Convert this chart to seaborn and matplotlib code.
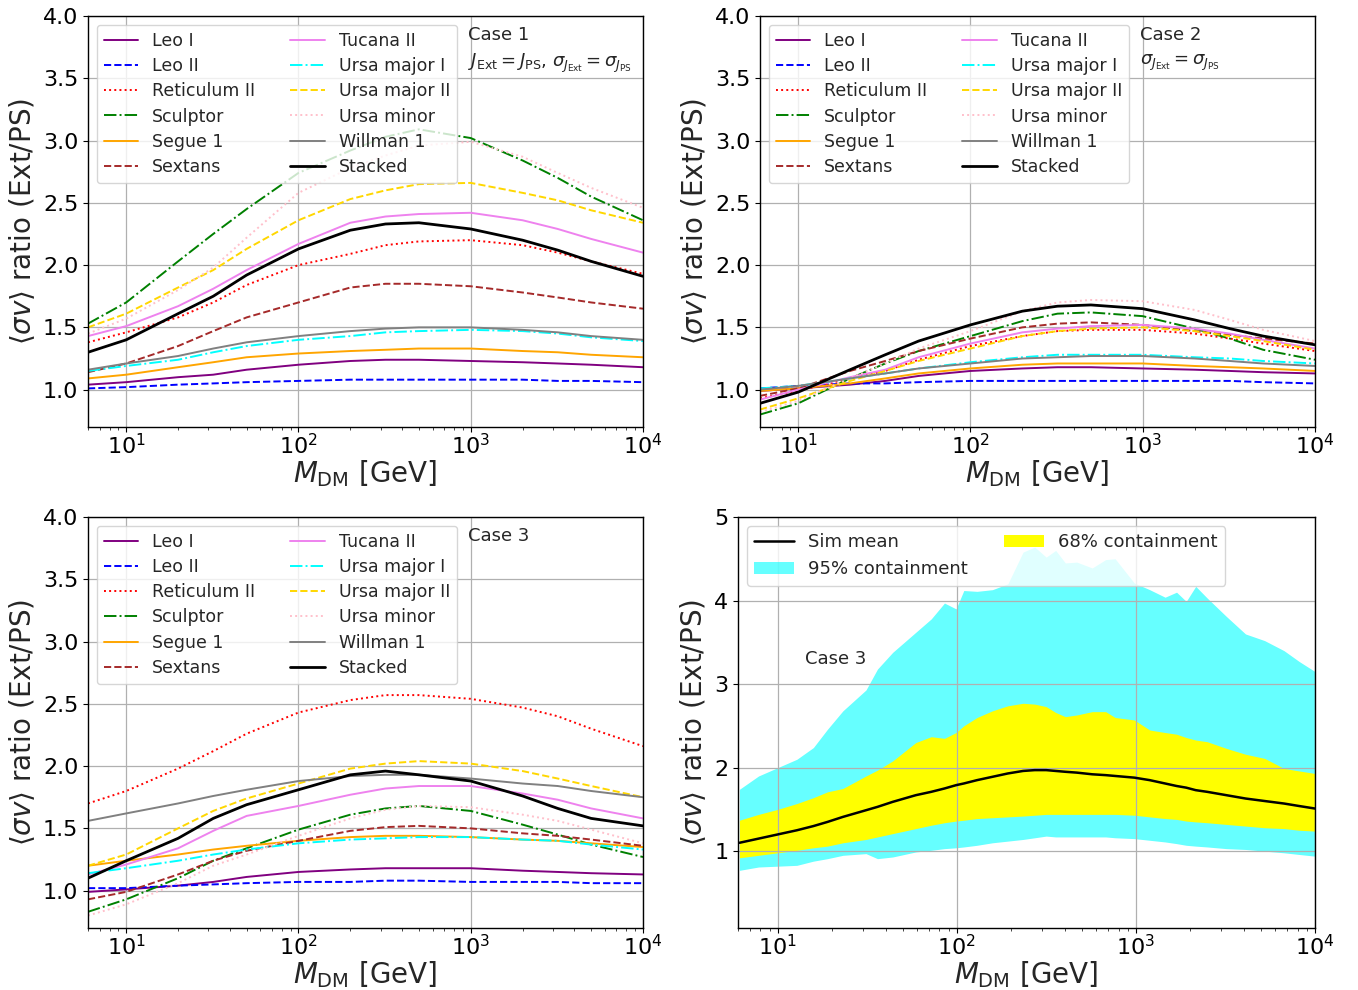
import matplotlib
matplotlib.use("Agg")
import matplotlib.pyplot as plt
from matplotlib.lines import Line2D
from matplotlib.patches import Patch
import seaborn as sns

# Dark-matter mass grid [GeV] for the per-dwarf ratio curves
mass = [6, 10, 20, 32, 50, 100, 200, 320, 500, 1000, 2000, 3200, 5000, 10000]

names = ["Leo I", "Leo II", "Reticulum II", "Sculptor", "Segue 1", "Sextans",
         "Tucana II", "Ursa major I", "Ursa major II", "Ursa minor", "Willman 1", "Stacked"]

# ---- Case 1: J_Ext = J_PS, sigma_J_Ext = sigma_J_PS
c1_leo1 = [1.04, 1.06, 1.10, 1.12, 1.16, 1.20, 1.23, 1.24, 1.24, 1.23, 1.22, 1.21, 1.20, 1.18]
c1_leo2 = [1.01, 1.02, 1.04, 1.05, 1.06, 1.07, 1.08, 1.08, 1.08, 1.08, 1.08, 1.07, 1.07, 1.06]
c1_ret2 = [1.38, 1.46, 1.58, 1.70, 1.84, 2.00, 2.09, 2.16, 2.19, 2.20, 2.16, 2.10, 2.03, 1.93]
c1_scl = [1.53, 1.70, 2.03, 2.25, 2.45, 2.74, 2.92, 3.03, 3.09, 3.02, 2.84, 2.70, 2.55, 2.36]
c1_seg1 = [1.09, 1.12, 1.18, 1.22, 1.26, 1.29, 1.31, 1.32, 1.33, 1.33, 1.31, 1.30, 1.28, 1.26]
c1_sex = [1.14, 1.21, 1.35, 1.47, 1.58, 1.70, 1.82, 1.85, 1.85, 1.83, 1.78, 1.74, 1.70, 1.65]
c1_tuc2 = [1.43, 1.51, 1.67, 1.81, 1.96, 2.17, 2.34, 2.39, 2.41, 2.42, 2.36, 2.29, 2.21, 2.10]
c1_uma1 = [1.15, 1.19, 1.24, 1.30, 1.35, 1.40, 1.43, 1.46, 1.47, 1.48, 1.47, 1.45, 1.42, 1.39]
c1_uma2 = [1.50, 1.61, 1.82, 1.96, 2.13, 2.36, 2.53, 2.60, 2.65, 2.66, 2.58, 2.52, 2.44, 2.34]
c1_umi = [1.45, 1.57, 1.80, 1.98, 2.22, 2.58, 2.78, 2.88, 2.96, 2.99, 2.87, 2.74, 2.62, 2.46]
c1_wil1 = [1.16, 1.21, 1.27, 1.33, 1.38, 1.43, 1.47, 1.49, 1.50, 1.50, 1.48, 1.46, 1.43, 1.40]
c1_stack = [1.30, 1.40, 1.61, 1.75, 1.92, 2.13, 2.28, 2.33, 2.34, 2.29, 2.20, 2.12, 2.03, 1.91]

# ---- Case 2: sigma_J_Ext = sigma_J_PS
c2_leo1 = [0.99, 1.01, 1.04, 1.07, 1.11, 1.15, 1.17, 1.18, 1.18, 1.17, 1.16, 1.15, 1.14, 1.13]
c2_leo2 = [1.01, 1.03, 1.05, 1.05, 1.06, 1.07, 1.07, 1.07, 1.07, 1.07, 1.07, 1.07, 1.06, 1.05]
c2_ret2 = [0.93, 0.99, 1.09, 1.15, 1.24, 1.35, 1.43, 1.47, 1.48, 1.48, 1.45, 1.41, 1.37, 1.31]
c2_scl = [0.80, 0.89, 1.09, 1.21, 1.31, 1.43, 1.55, 1.61, 1.62, 1.59, 1.49, 1.41, 1.32, 1.24]
c2_seg1 = [0.99, 1.01, 1.05, 1.09, 1.13, 1.17, 1.20, 1.21, 1.21, 1.21, 1.19, 1.18, 1.17, 1.15]
c2_sex = [0.95, 1.01, 1.15, 1.23, 1.31, 1.41, 1.50, 1.53, 1.54, 1.52, 1.47, 1.44, 1.41, 1.37]
c2_tuc2 = [0.92, 1.00, 1.10, 1.16, 1.26, 1.37, 1.46, 1.49, 1.51, 1.52, 1.49, 1.45, 1.40, 1.33]
c2_uma1 = [1.01, 1.03, 1.09, 1.13, 1.17, 1.22, 1.26, 1.28, 1.28, 1.28, 1.26, 1.25, 1.23, 1.21]
c2_uma2 = [0.84, 0.93, 1.07, 1.15, 1.23, 1.33, 1.43, 1.47, 1.49, 1.50, 1.47, 1.43, 1.39, 1.32]
c2_umi = [0.82, 0.91, 1.09, 1.21, 1.33, 1.47, 1.63, 1.70, 1.72, 1.71, 1.64, 1.56, 1.48, 1.39]
c2_wil1 = [1.00, 1.03, 1.09, 1.13, 1.17, 1.21, 1.25, 1.26, 1.27, 1.27, 1.25, 1.23, 1.21, 1.19]
c2_stack = [0.89, 0.98, 1.16, 1.28, 1.39, 1.52, 1.63, 1.67, 1.68, 1.65, 1.56, 1.49, 1.43, 1.36]

# ---- Case 3
c3_leo1 = [0.99, 1.01, 1.04, 1.07, 1.11, 1.15, 1.17, 1.18, 1.18, 1.18, 1.16, 1.15, 1.14, 1.13]
c3_leo2 = [1.02, 1.02, 1.04, 1.05, 1.06, 1.07, 1.07, 1.08, 1.08, 1.07, 1.07, 1.07, 1.06, 1.06]
c3_ret2 = [1.70, 1.80, 1.98, 2.12, 2.26, 2.43, 2.53, 2.57, 2.57, 2.54, 2.47, 2.40, 2.30, 2.16]
c3_scl = [0.83, 0.93, 1.10, 1.24, 1.34, 1.49, 1.61, 1.66, 1.68, 1.64, 1.53, 1.45, 1.37, 1.27]
c3_seg1 = [1.20, 1.24, 1.29, 1.33, 1.36, 1.40, 1.43, 1.44, 1.44, 1.43, 1.41, 1.40, 1.38, 1.35]
c3_sex = [0.93, 0.99, 1.13, 1.24, 1.32, 1.40, 1.48, 1.51, 1.52, 1.50, 1.46, 1.44, 1.41, 1.36]
c3_tuc2 = [1.13, 1.21, 1.34, 1.48, 1.60, 1.68, 1.77, 1.82, 1.84, 1.84, 1.78, 1.73, 1.66, 1.58]
c3_uma1 = [1.14, 1.18, 1.24, 1.29, 1.33, 1.38, 1.41, 1.42, 1.43, 1.43, 1.41, 1.40, 1.37, 1.33]
c3_uma2 = [1.20, 1.29, 1.50, 1.64, 1.74, 1.86, 1.98, 2.02, 2.04, 2.02, 1.96, 1.90, 1.84, 1.75]
c3_umi = [0.80, 0.89, 1.06, 1.20, 1.29, 1.44, 1.58, 1.65, 1.68, 1.67, 1.61, 1.56, 1.49, 1.38]
c3_wil1 = [1.56, 1.62, 1.70, 1.76, 1.81, 1.88, 1.92, 1.93, 1.93, 1.90, 1.86, 1.84, 1.80, 1.75]
c3_stack = [1.10, 1.24, 1.42, 1.58, 1.69, 1.81, 1.93, 1.96, 1.93, 1.88, 1.76, 1.66, 1.58, 1.52]

# ---- Case 3 simulations: log10 mass grid, mean and containment bands
sim_log_mass = [0.786, 0.893, 1.0, 1.107, 1.199, 1.278, 1.364, 1.493, 1.557, 1.642,
                1.771, 1.857, 1.931, 1.996, 2.039, 2.113, 2.199, 2.285, 2.370, 2.435,
                2.499, 2.552, 2.606, 2.670, 2.756, 2.831, 2.884, 2.991, 3.077, 3.163,
                3.227, 3.281, 3.334, 3.398, 3.505, 3.612, 3.719, 3.827, 3.912, 4.0]
sim_mean = [1.10, 1.15, 1.20, 1.25, 1.30, 1.35, 1.41, 1.49, 1.53, 1.59,
            1.67, 1.71, 1.75, 1.79, 1.81, 1.85, 1.89, 1.93, 1.96, 1.97,
            1.97, 1.96, 1.95, 1.94, 1.92, 1.91, 1.90, 1.88, 1.85, 1.81,
            1.78, 1.76, 1.73, 1.71, 1.67, 1.63, 1.60, 1.57, 1.54, 1.51]
sim_68_lo = [0.92, 0.95, 0.98, 1.01, 1.04, 1.06, 1.10, 1.14, 1.17, 1.21,
             1.27, 1.31, 1.34, 1.36, 1.37, 1.39, 1.40, 1.41, 1.42, 1.43,
             1.44, 1.44, 1.44, 1.44, 1.44, 1.44, 1.44, 1.43, 1.41, 1.39,
             1.38, 1.36, 1.35, 1.34, 1.32, 1.30, 1.28, 1.27, 1.25, 1.24]
sim_68_hi = [1.37, 1.44, 1.50, 1.57, 1.64, 1.71, 1.75, 1.90, 1.97, 2.08,
             2.30, 2.37, 2.35, 2.42, 2.50, 2.60, 2.68, 2.74, 2.77, 2.76,
             2.73, 2.66, 2.61, 2.63, 2.67, 2.67, 2.60, 2.57, 2.45, 2.42,
             2.40, 2.36, 2.33, 2.31, 2.23, 2.16, 2.11, 1.99, 1.96, 1.93]
sim_95_lo = [0.77, 0.81, 0.82, 0.83, 0.88, 0.91, 0.95, 0.97, 0.91, 0.93,
             0.99, 1.01, 1.03, 1.04, 1.05, 1.07, 1.10, 1.12, 1.14, 1.16,
             1.18, 1.17, 1.17, 1.17, 1.17, 1.17, 1.16, 1.15, 1.13, 1.11,
             1.09, 1.07, 1.06, 1.05, 1.03, 1.02, 1.00, 0.98, 0.96, 0.94]
sim_95_hi = [1.74, 1.90, 2.00, 2.10, 2.24, 2.46, 2.68, 2.93, 3.18, 3.38,
             3.62, 3.78, 3.97, 3.90, 4.12, 4.11, 4.13, 4.20, 4.58, 4.64,
             4.52, 4.60, 4.45, 4.46, 4.39, 4.49, 4.50, 4.21, 4.13, 4.04,
             4.10, 3.99, 4.17, 4.03, 3.81, 3.60, 3.52, 3.40, 3.27, 3.15]

case1 = [c1_leo1, c1_leo2, c1_ret2, c1_scl, c1_seg1, c1_sex, c1_tuc2, c1_uma1, c1_uma2, c1_umi, c1_wil1, c1_stack]
case2 = [c2_leo1, c2_leo2, c2_ret2, c2_scl, c2_seg1, c2_sex, c2_tuc2, c2_uma1, c2_uma2, c2_umi, c2_wil1, c2_stack]
case3 = [c3_leo1, c3_leo2, c3_ret2, c3_scl, c3_seg1, c3_sex, c3_tuc2, c3_uma1, c3_uma2, c3_umi, c3_wil1, c3_stack]

styles = {
    "Leo I": ("purple", "-"),
    "Leo II": ("blue", "--"),
    "Reticulum II": ("red", ":"),
    "Sculptor": ("green", "-."),
    "Segue 1": ("orange", "-"),
    "Sextans": ("brown", "--"),
    "Tucana II": ("violet", "-"),
    "Ursa major I": ("cyan", "-."),
    "Ursa major II": ("gold", "--"),
    "Ursa minor": ("pink", ":"),
    "Willman 1": ("gray", "-"),
    "Stacked": ("black", "-"),
}

sns.set_theme(style="white")
plt.rcParams.update({
    "font.family": ["DejaVu Sans"],
    "axes.edgecolor": "black",
    "axes.linewidth": 1.0,
    "xtick.direction": "out",
    "ytick.direction": "out",
    "xtick.bottom": True,
    "ytick.left": True,
    "mathtext.fontset": "dejavusans",
})

W, H = 1358, 990
fig = plt.figure(figsize=(W / 100, H / 100), dpi=100)
aw, ah = 555 / W, 411 / H
ax1 = fig.add_axes([88 / W, 1 - 427 / H, aw, ah])
ax2 = fig.add_axes([760 / W, 1 - 427 / H, aw, ah])
ax3 = fig.add_axes([88 / W, 1 - 928 / H, aw, ah])
ax4 = fig.add_axes([738 / W, 1 - 928 / H, 577 / W, ah])

ylabel = r"$\langle\sigma v\rangle$ ratio (Ext/PS)"
xlabel = r"$M_{\rm DM}$ [GeV]"


def style_axis(ax, yticks, fmt):
    ax.set_xscale("log")
    ax.set_xlim(6, 1e4)
    ax.set_axisbelow("line")
    ax.grid(True, which="major", color="#b0b0b0", linewidth=0.9)
    ax.set_yticks(yticks)
    ax.set_yticklabels([fmt.format(v) for v in yticks])
    ax.tick_params(axis="both", which="major", labelsize=16, length=3.5, width=0.8,
                   colors="black", top=False, right=False)
    ax.tick_params(axis="x", which="major", pad=0.5)
    ax.tick_params(axis="x", which="minor", length=2, width=0.6, bottom=True)
    ax.set_xlabel(xlabel, fontsize=20, labelpad=0)
    ax.set_ylabel(ylabel, fontsize=20, labelpad=4)
    for s in ax.spines.values():
        s.set_visible(True)
        s.set_color("black")


def draw_case(ax, series, note):
    for name, vals in zip(names, series):
        color, ls = styles[name]
        lw = 2.0 if name == "Stacked" else 1.4
        sns.lineplot(x=mass, y=vals, ax=ax, color=color, linestyle=ls,
                     linewidth=lw, label=name, estimator=None, sort=False)
    style_axis(ax, [1.0, 1.5, 2.0, 2.5, 3.0, 3.5, 4.0], "{:.1f}")
    ax.set_ylim(0.7, 4.0)
    ax.legend(loc="upper left", ncol=2, fontsize=12.5, frameon=True,
              framealpha=0.8, edgecolor="0.8", fancybox=True,
              borderaxespad=0.5, handlelength=2.0, columnspacing=2.0,
              labelspacing=0.42)
    ax.text(0.685, 0.975, note, transform=ax.transAxes, fontsize=13,
            va="top", ha="left", linespacing=1.5)


draw_case(ax1, case1, "Case 1\n" + r"$J_{\rm Ext} = J_{\rm PS}$, $\sigma_{J_{\rm Ext}} = \sigma_{J_{\rm PS}}$")
draw_case(ax2, case2, "Case 2\n" + r"$\sigma_{J_{\rm Ext}} = \sigma_{J_{\rm PS}}$")
draw_case(ax3, case3, "Case 3")

# Simulation panel
sim_mass = [10 ** v for v in sim_log_mass]
ax4.fill_between(sim_mass, sim_95_lo, sim_95_hi, color="cyan", alpha=0.6, linewidth=0)
ax4.fill_between(sim_mass, sim_68_lo, sim_68_hi, color="yellow", linewidth=0)
sns.lineplot(x=sim_mass, y=sim_mean, ax=ax4, color="black", linewidth=1.8,
             estimator=None, sort=False)
style_axis(ax4, [1, 2, 3, 4, 5], "{:d}")
ax4.set_ylim(0.08, 5)
handles = [Line2D([], [], color="black", linewidth=1.8),
           Patch(facecolor="cyan", alpha=0.6, linewidth=0),
           Patch(facecolor="yellow", linewidth=0)]
ax4.legend(handles, ["Sim mean", "95% containment", "68% containment"],
           loc="upper left", ncol=2, fontsize=13, frameon=True, framealpha=0.8,
           edgecolor="0.8", fancybox=True, borderaxespad=0.5,
           handlelength=2.2, columnspacing=2.0)
ax4.text(0.116, 0.655, "Case 3", transform=ax4.transAxes, fontsize=13, va="center")

fig.savefig("out.png", dpi=100)
